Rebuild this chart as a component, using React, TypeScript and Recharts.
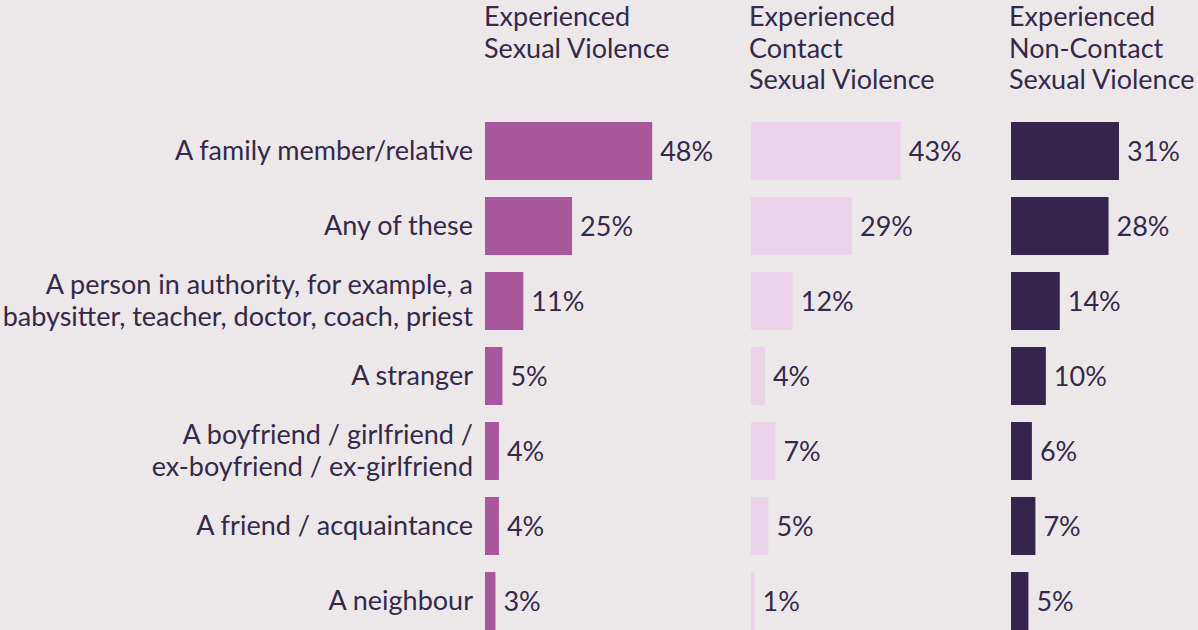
import { BarChart, Bar, XAxis, YAxis, LabelList } from "recharts";

const categories = [
  "A family member/relative",
  "Any of these",
  "A person in authority, for example, a|babysitter, teacher, doctor, coach, priest",
  "A stranger",
  "A boyfriend / girlfriend /|ex-boyfriend / ex-girlfriend",
  "A friend / acquaintance",
  "A neighbour",
];
const sexualViolence = [48, 25, 11, 5, 4, 4, 3];
const contactViolence = [43, 29, 12, 4, 7, 5, 1];
const nonContactViolence = [31, 28, 14, 10, 6, 7, 5];

const headers = [
  ["Experienced", "Sexual Violence"],
  ["Experienced", "Contact", "Sexual Violence"],
  ["Experienced", "Non-Contact", "Sexual Violence"],
];

const FONT = "Lato, 'Open Sans', sans-serif";
const FS = 27;
const TEXT = "#35294a";
const BG = "#ece8e9";

const rows = categories.map((c, i) => ({
  category: c,
  sexual: sexualViolence[i],
  contact: contactViolence[i],
  nonContact: nonContactViolence[i],
}));

function CategoryTick(props: any) {
  const { x, y, payload } = props;
  const lines: string[] = String(payload.value).split("|");
  const lh = 32;
  const start = y - 2 - ((lines.length - 1) * lh) / 2;
  return (
    <text x={x} y={start} textAnchor="end" fill={TEXT} fontSize={FS} fontFamily={FONT} dominantBaseline="central">
      {lines.map((l, i) => (
        <tspan key={i} x={x} y={start + i * lh} dominantBaseline="central">
          {l}
        </tspan>
      ))}
    </text>
  );
}

function Panel({ dataKey, color, left, withAxis }: { dataKey: string; color: string; left: number; withAxis?: boolean }) {
  const axisW = withAxis ? 485 : 0;
  return (
    <div style={{ position: "absolute", left, top: 113 }}>
      <BarChart
        width={axisW + 270}
        height={525}
        data={rows}
        layout="vertical"
        margin={{ top: 0, right: 61, bottom: 0, left: 0 }}
        style={{ fontFamily: FONT }}
      >
        <XAxis type="number" domain={[0, 60]} hide />
        <YAxis
          type="category"
          dataKey="category"
          width={axisW}
          hide={!withAxis}
          axisLine={false}
          tickLine={false}
          tickSize={0}
          tickMargin={12}
          tick={<CategoryTick />}
          interval={0}
        />
        <Bar dataKey={dataKey} fill={color} barSize={58} isAnimationActive={false}>
          <LabelList
            dataKey={dataKey}
            position="right"
            offset={8}
            formatter={(v: any) => `${v}%`}
            fill={TEXT}
            fontSize={FS}
            fontFamily={FONT}
          />
        </Bar>
      </BarChart>
    </div>
  );
}

export default function App() {
  const headerLeft = [484, 749, 1009];
  return (
    <div
      style={{
        position: "fixed",
        left: 0,
        top: 0,
        width: 1198,
        height: 630,
        overflow: "hidden",
        background: BG,
        fontFamily: FONT,
      }}
    >
      {headers.map((h, i) => (
        <div
          key={i}
          style={{
            position: "absolute",
            left: headerLeft[i],
            top: 0,
            color: TEXT,
            fontSize: FS,
            lineHeight: "31.5px",
            whiteSpace: "nowrap",
          }}
        >
          {h.map((l, j) => (
            <div key={j}>{l}</div>
          ))}
        </div>
      ))}
      <Panel dataKey="sexual" color="#a8579a" left={0} withAxis />
      <Panel dataKey="contact" color="#ebd3e9" left={751} />
      <Panel dataKey="nonContact" color="#35244b" left={1011} />
    </div>
  );
}
